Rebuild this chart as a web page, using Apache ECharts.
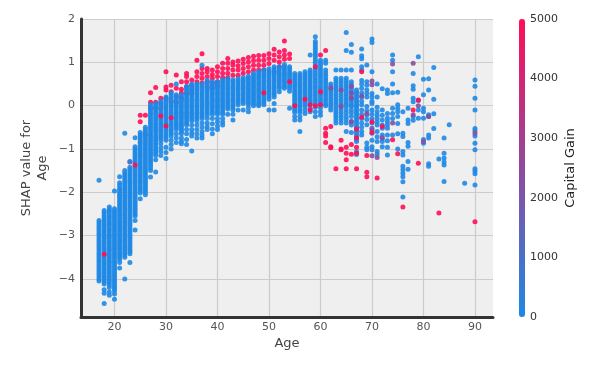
<!DOCTYPE html>
<html>
<head>
<meta charset="utf-8">
<style>html,body{margin:0;padding:0;background:#fff}#chart{width:610px;height:368px}</style>
<script src="https://cdn.jsdelivr.net/npm/echarts@6/dist/echarts.min.js"></script>
</head>
<body>
<div id="chart"></div>
<script>
// each row: age first, then the SHAP values read at that age
const lowGainRows = [
  [17,-1.72,-2.65,-2.7,-2.75,-2.8,-2.85,-2.9,-2.95,-3,-3.05,-3.1,-3.15,-3.2,-3.25,-3.3,-3.35,-3.4,-3.45,-3.5,-3.55,-3.6,-3.65,-3.7,-3.75,-3.8,-3.85,-3.9,-3.95,-4,-4.05],
  [18,-2.42,-2.47,-2.52,-2.57,-2.62,-2.67,-2.72,-2.77,-2.82,-2.87,-2.92,-2.97,-3.02,-3.07,-3.12,-3.17,-3.22,-3.27,-3.32,-3.37,-3.42,-3.47,-3.52,-3.57,-3.62,-3.67,-3.72,-3.77,-3.82,-3.87,-3.92,-3.97,-4.02,-4.07,-4.12,-4.25,-4.33,-4.57],
  [19,-2.34,-2.39,-2.44,-2.49,-2.54,-2.59,-2.64,-2.69,-2.74,-2.79,-2.84,-2.89,-2.94,-2.99,-3.04,-3.09,-3.14,-3.19,-3.24,-3.29,-3.34,-3.39,-3.44,-3.49,-3.54,-3.59,-3.64,-3.69,-3.74,-3.79,-3.84,-3.89,-3.94,-3.99,-4.04,-4.09,-4.14,-4.2,-4.3,-4.38],
  [20,-1.97,-2.38,-2.43,-2.48,-2.53,-2.58,-2.63,-2.68,-2.73,-2.78,-2.83,-2.88,-2.93,-2.98,-3.03,-3.08,-3.13,-3.18,-3.23,-3.28,-3.33,-3.38,-3.43,-3.48,-3.53,-3.58,-3.63,-3.68,-3.73,-3.78,-3.83,-3.88,-3.93,-3.98,-4.03,-4.08,-4.13,-4.18,-4.23,-4.28,-4.35,-4.47],
  [21,-1.64,-1.78,-1.84,-1.9,-1.95,-2,-2.05,-2.1,-2.15,-2.2,-2.25,-2.3,-2.35,-2.4,-2.45,-2.5,-2.55,-2.6,-2.65,-2.7,-2.75,-2.8,-2.85,-2.9,-2.95,-3,-3.05,-3.1,-3.15,-3.2,-3.25,-3.3,-3.35,-3.4,-3.45,-3.5,-3.55,-3.62,-3.75],
  [22,-0.64,-1.5,-1.55,-1.6,-1.65,-1.7,-1.75,-1.8,-1.85,-1.9,-1.95,-2,-2.05,-2.1,-2.15,-2.2,-2.25,-2.3,-2.35,-2.4,-2.45,-2.5,-2.55,-2.6,-2.65,-2.7,-2.75,-2.8,-2.85,-2.9,-2.95,-3,-3.05,-3.1,-3.15,-3.2,-3.25,-3.3,-3.35,-3.4,-3.45,-3.5,-4],
  [23,-1.29,-1.42,-1.47,-1.52,-1.57,-1.62,-1.67,-1.72,-1.77,-1.82,-1.87,-1.92,-1.97,-2.02,-2.07,-2.12,-2.17,-2.22,-2.27,-2.32,-2.37,-2.42,-2.47,-2.52,-2.57,-2.62,-2.67,-2.72,-2.77,-2.82,-2.87,-2.92,-2.97,-3.02,-3.07,-3.12,-3.17,-3.22,-3.27,-3.32,-3.37,-3.42,-3.62],
  [24,-0.74,-0.95,-1,-1.05,-1.1,-1.15,-1.2,-1.25,-1.3,-1.35,-1.4,-1.45,-1.5,-1.55,-1.6,-1.65,-1.7,-1.75,-1.8,-1.85,-1.9,-1.95,-2,-2.05,-2.1,-2.15,-2.2,-2.25,-2.3,-2.35,-2.4,-2.45,-2.5,-2.55,-2.65,-2.87],
  [25,-0.62,-0.67,-0.72,-0.77,-0.82,-0.87,-0.92,-0.97,-1.02,-1.07,-1.12,-1.17,-1.22,-1.27,-1.32,-1.37,-1.42,-1.47,-1.52,-1.57,-1.62,-1.67,-1.72,-1.77,-1.82,-1.87,-1.92,-1.97,-2.02,-2.15],
  [26,-0.5,-0.55,-0.6,-0.65,-0.7,-0.75,-0.8,-0.85,-0.9,-0.95,-1,-1.05,-1.1,-1.15,-1.2,-1.25,-1.3,-1.35,-1.4,-1.45,-1.5,-1.55,-1.6,-1.65,-1.7,-1.75,-1.8,-1.85,-1.9,-1.95,-2,-2.06],
  [27,0.02,-0.03,-0.08,-0.13,-0.18,-0.23,-0.28,-0.33,-0.38,-0.43,-0.48,-0.53,-0.58,-0.63,-0.68,-0.73,-0.78,-0.83,-0.88,-0.93,-0.98,-1.03,-1.08,-1.13,-1.18,-1.23,-1.28,-1.33,-1.38,-1.44,-1.5,-1.65],
  [28,0.05,0,-0.05,-0.1,-0.15,-0.2,-0.25,-0.3,-0.35,-0.4,-0.45,-0.5,-0.55,-0.6,-0.65,-0.7,-0.75,-0.8,-0.85,-0.9,-0.95,-1,-1.05,-1.1,-1.15,-1.25,-1.53],
  [29,0.1,0.05,0,-0.05,-0.1,-0.15,-0.2,-0.25,-0.3,-0.35,-0.4,-0.45,-0.5,-0.55,-0.6,-0.65,-0.7,-0.75,-0.8,-0.88,-0.97,-1.06,-1.15],
  [30,0.2,0.15,0.1,0.05,0,-0.05,-0.1,-0.15,-0.2,-0.25,-0.3,-0.35,-0.4,-0.45,-0.5,-0.55,-0.6,-0.65,-0.7,-0.75,-0.8,-0.96,-1.08,-1.22],
  [31,0.3,0.25,0.2,0.15,0.1,0.05,0,-0.05,-0.1,-0.15,-0.2,-0.25,-0.3,-0.35,-0.4,-0.45,-0.5,-0.55,-0.6,-0.65,-0.7,-0.8,-0.9,-1],
  [32,0.5,0.25,0.2,0.15,0.1,0.05,0,-0.05,-0.1,-0.15,-0.2,-0.25,-0.3,-0.35,-0.4,-0.45,-0.5,-0.55,-0.65,-0.75,-0.85],
  [33,0.25,0.2,0.15,0.1,0.05,0,-0.05,-0.1,-0.15,-0.2,-0.25,-0.3,-0.35,-0.4,-0.45,-0.5,-0.55,-0.6,-0.65,-0.75,-0.82,-0.88],
  [34,0.45,0.4,0.35,0.3,0.25,0.2,0.15,0.1,0.05,0,-0.05,-0.1,-0.15,-0.2,-0.25,-0.3,-0.35,-0.4,-0.45,-0.55,-0.65,-0.78,-0.9],
  [35,0.5,0.45,0.4,0.35,0.3,0.25,0.2,0.15,0.1,0.05,0,-0.05,-0.1,-0.15,-0.2,-0.25,-0.3,-0.35,-0.45,-0.55,-0.63,-0.7,-1.05],
  [36,0.5,0.45,0.4,0.35,0.3,0.25,0.2,0.15,0.1,0.05,0,-0.05,-0.1,-0.15,-0.2,-0.25,-0.3,-0.35,-0.45,-0.55,-0.65,-0.75],
  [37,0.93,0.5,0.45,0.4,0.35,0.3,0.25,0.2,0.15,0.1,0.05,0,-0.05,-0.1,-0.15,-0.2,-0.25,-0.3,-0.4,-0.5,-0.6,-0.68,-0.75],
  [38,0.58,0.53,0.48,0.43,0.38,0.33,0.28,0.23,0.18,0.13,0.08,0.03,-0.02,-0.07,-0.12,-0.17,-0.22,-0.3,-0.4,-0.48,-0.55],
  [39,0.55,0.5,0.45,0.4,0.35,0.3,0.25,0.2,0.15,0.1,0.05,0,-0.05,-0.1,-0.15,-0.2,-0.3,-0.42,-0.54,-0.65],
  [40,0.55,0.5,0.45,0.4,0.35,0.3,0.25,0.2,0.15,0.1,0.05,0,-0.05,-0.1,-0.15,-0.2,-0.3,-0.38,-0.47,-0.55],
  [41,0.6,0.55,0.5,0.45,0.4,0.35,0.3,0.25,0.2,0.15,0.1,0.05,0,-0.05,-0.1,-0.15,-0.2,-0.3,-0.38,-0.45],
  [42,0.62,0.57,0.52,0.47,0.42,0.37,0.32,0.27,0.22,0.17,0.12,0.07,0.02,-0.03,-0.08,-0.2],
  [43,0.6,0.55,0.5,0.45,0.4,0.35,0.3,0.25,0.2,0.15,0.1,0.05,0,-0.05,-0.1,-0.2,-0.33],
  [44,0.62,0.57,0.52,0.47,0.42,0.37,0.32,0.27,0.22,0.17,0.12,0.07,0.02,-0.1],
  [45,0.65,0.6,0.55,0.5,0.45,0.4,0.35,0.3,0.25,0.2,0.15,0.1,0.05,-0.1],
  [46,0.68,0.63,0.58,0.53,0.48,0.43,0.38,0.33,0.28,0.23,0.18,0.13,0.08,0.03,-0.05,-0.14],
  [47,0.75,0.7,0.65,0.6,0.55,0.5,0.45,0.4,0.35,0.3,0.25,0.2,0.15,0.1,0.05,0],
  [48,0.78,0.73,0.68,0.63,0.58,0.53,0.48,0.43,0.38,0.33,0.28,0.23,0.18,0.13,0.08,0.03,0],
  [49,0.82,0.77,0.72,0.67,0.62,0.57,0.52,0.47,0.42,0.37,0.32,0.27,0.22,0.17,0.12,0.07,0.02],
  [50,0.85,0.8,0.75,0.7,0.65,0.6,0.55,0.5,0.45,0.4,0.35,0.3,0.25,0.2,0.15,-0.1],
  [51,0.9,0.85,0.8,0.75,0.7,0.65,0.6,0.55,0.5,0.45,0.4,0.35,0.3,0.25,0.2,0.05,-0.1],
  [52,0.9,0.85,0.8,0.75,0.7,0.65,0.6,0.55,0.5,0.45,0.4,0.32],
  [53,0.95,0.9,0.85,0.8,0.75,0.7,0.65,0.6,0.55,0.5,0.45,0.4],
  [54,0.9,0.85,0.8,0.75,0.7,0.65,0.6,0.55,0.5,0.45,0.4,0.33,-0.06],
  [55,0.74,0.69,0.64,0.59,0.54,0.49,0.44,0.39,0.34,0.29,0.24,0.19,0.14,0.09,0.04,-0.01,-0.06,-0.11,-0.16,-0.25,-0.33],
  [56,0.74,0.69,0.64,0.59,0.54,0.49,0.44,0.39,0.34,0.29,0.24,0.19,0.14,0.09,0.04,-0.01,-0.06,-0.11,-0.16,-0.25,-0.33,-0.6],
  [57,0.78,0.73,0.68,0.63,0.58,0.53,0.48,0.43,0.38,0.33,0.28,0.23,0.18,0.13,0.08,0.03,-0.02,-0.1,-0.18],
  [58,1.17,0.82,0.77,0.72,0.67,0.62,0.57,0.52,0.47,0.42,0.37,0.32,0.27,0.22,0.17,0.12,0.07,0.02,-0.06,-0.14],
  [59,1.59,1.48,1.42,1.36,1.3,1.24,1.18,1.12,1.06,1,0.94,0.88,0.82,0.76,0.7,0.64,0.58,0.52,0.46,0.4,0.34,0.28,0.22,0.16,0.1,0.04,-0.04,-0.14,-0.25],
  [60,1.05,0.99,0.93,0.87,0.81,0.75,0.69,0.63,0.57,0.51,0.45,0.39,0.33,0.27,0.21,0.15,0.09,0.03,-0.05,-0.14,-0.22],
  [61,1.05,0.98,0.82,0.76,0.7,0.64,0.58,0.52,0.46,0.4,0.34,0.28,0.22,0.16,0.1,0.04,0],
  [62,0.5,0.44,0.38,0.32,0.26,0.2,0.14,0.08,0.02,-0.04,-0.1],
  [63,0.82,0.63,0.57,0.51,0.45,0.39,0.33,0.27,0.21,0.15,0.09,0.03,-0.03,-0.09,-0.15,-0.21,-0.27,-0.33,-0.4],
  [64,0.82,0.63,0.57,0.51,0.45,0.39,0.33,0.27,0.21,0.15,0.09,0.03,-0.03,-0.09,-0.15,-0.21,-0.27,-0.33,-0.4],
  [65,1.69,1.27,0.82,0.63,0.57,0.51,0.45,0.39,0.33,0.27,0.21,0.15,0.09,0.03,-0.02,-0.1,-0.17,-0.25,-0.32,-0.4,-0.6],
  [66,1.41,1.23,0.82,0.55,0.49,0.43,0.37,0.31,0.25,0.19,0.13,0.07,0.01,-0.02,-0.1,-0.17,-0.25,-0.36,-0.45,-0.62],
  [67,0.36,0.31,0.26,0.21,0.16,0.11,0.06,0.01,-0.04,-0.09,-0.14,-0.19,-0.24,-0.29,-0.34,-0.39,-0.44,-0.49,-0.54,-0.59,-0.64,-0.69,-0.74,-0.79,-0.83,-1.06,-1.13],
  [68,1.31,1.15,1.08,0.9,0.82,0.58,0.5,0.4,0.3,0.2,0.1,0.02,-0.1,-0.2,-0.3,-0.4,-0.5,-0.6,-0.68],
  [69,0.94,0.55,0.47,0.36,0.28,0.2,-0.02,-0.12,-0.22,-0.32,-0.44,-0.86,-0.96,-1.02],
  [70,1.54,1.46,0.78,0.28,0.2,0.1,0.05,-0.1,-0.2,-0.3,-0.4,-0.56,-0.64,-0.8,-0.95,-1.02],
  [71,0.5,0.2,-0.04,-0.14,-0.22,-0.3,-0.38,-0.45,-0.6,-0.72,-0.83,-1.06,-1.12],
  [72,0.39,-0.1,-0.22,-0.33,-0.45,-0.52,-0.68,-0.76,-0.83,-0.95],
  [73,0.36,0.28,-0.18,-0.29,-0.37,-0.45,-0.52,-0.68,-0.81,-0.96,-1.14],
  [74,1.17,1.05,0.78,0.5,0.3,-0.06,-0.18,-0.3,-0.68],
  [75,0.31,0.02,-0.06,-0.14,-0.25,-0.41,-0.65,-1],
  [76,-0.14,-0.64,-0.71,-1.06,-1.14,-1.4,-1.48,-1.56,-1.64,-1.76,-2.11],
  [77,-0.06,-0.33,-0.41,-0.85,-0.94,-1.29,-1.47],
  [78,0.74,0.46,0.38,0.17,0.09,-0.25,-0.34],
  [79,1.13,0.12,-0.1,-0.29],
  [80,0.61,0.25,-0.06,-0.14,-0.29,-0.78,-0.87],
  [81,0.62,0.36,-0.21,-0.25,-0.68,-0.75,-1.34,-1.4],
  [82,0.88,0.15,-0.19,-0.53],
  [83,-1.23],
  [84,-0.75,-1.1,-1.21,-1.3,-1.37,-1.75],
  [85,-0.44],
  [88,-1.79],
  [90,0.59,0.45,0.17,-0.1,-0.53,-0.58,-0.7,-0.87,-1.02,-1.46,-1.51,-1.57,-1.83]
]
const midGainRows = [
  [62,0.4],
  [64,0.36,-0.02],
  [66,0.44,0.29,0.17,-0.38],
  [68,0.22],
  [69,-0.18],
  [70,0.57,0.48,-0.52,-1.16],
  [71,-1.2],
  [72,-0.74],
  [74,0.96,-0.4],
  [78,0.98,-0.21],
  [79,0],
  [80,-0.83],
  [81,-0.25],
  [90,-0.64]
]
// pink dots the blue column is drawn over
const highGainBackRows = [
  [23,-1.3],
  [25,-0.22,-0.37],
  [26,-0.22,-0.67],
  [27,0.3,0.08,-0.06],
  [28,0.42,0.08,-0.06],
  [29,0.17,0.05,-0.06],
  [30,0.78,0.43,0.36,0.17],
  [31,0.47,0.32,0.09],
  [32,0.71,0.4,0.21,0.07],
  [33,0.55,0.38,0.29,0.17],
  [34,0.74,0.67,0.55,0.43,0.28],
  [35,0.59,0.47,0.36,0.28],
  [36,1.05,0.78,0.67,0.55],
  [37,1.2,0.86,0.74,0.63,0.52],
  [38,0.86,0.78,0.67,0.55,0.43],
  [39,0.82,0.72,0.63,0.52,0.4],
  [40,0.9,0.78,0.67,0.55,0.47],
  [41,0.98,0.86,0.75,0.65],
  [42,1.09,0.98,0.86,0.75,0.65],
  [43,1.01,0.93,0.82,0.7],
  [44,1.03,0.92,0.82,0.7],
  [45,1.07,0.97,0.86,0.75],
  [46,1.11,1.01,0.9,0.78],
  [47,1.14,1.04,0.93,0.82],
  [48,1.16,1.05,0.93,0.82],
  [49,1.16,1.05,0.93,0.82],
  [50,1.2,1.09,0.97],
  [51,1.3,1.17,1.05,0.78],
  [52,1.24,1.13,1.01,0.9],
  [53,1.49,1.27,1.17,1.07],
  [54,1.19,1.09]
]
const highGainFrontRows = [
  [18,-3.43],
  [24,-1.37],
  [29,-0.24],
  [30,-0.47],
  [31,-0.28],
  [49,0.3],
  [54,0.55],
  [55,0],
  [57,0.15],
  [58,0.02,-0.1],
  [59,0.9,0],
  [60,1.17,0.32,0.02],
  [61,1.27,-0.52,-0.64,-0.7,-0.85],
  [62,-0.48,-0.95,-0.97],
  [63,-1.46],
  [64,-0.8,-1,-1.02],
  [65,-0.96,-1.1,-1.25,-1.46],
  [66,-0.9,-1.12],
  [67,-0.54,-0.74,-0.96,-1.1,-1.46],
  [68,0.78,-0.27],
  [69,-1.15,-1.54,-1.64],
  [70,-0.37,-0.62],
  [71,-1.67],
  [72,-0.48],
  [74,-0.79],
  [75,-1.11],
  [76,-2.34],
  [78,-0.1],
  [79,0.13,-1.33],
  [83,-2.48],
  [90,-2.68]
]
const gainLow = 0
const gainMid = 2400
const gainHigh = 5000
const colorbarColors = ['#1E88E5', '#FF0D57']

const toPoints = (rows, gain) => {
  const out = []
  rows.forEach(row => {
    row.slice(1).forEach(v => out.push([row[0], v, gain]))
  })
  return out
}

const minus = v => String(v).replace('-', '\u2212')
const font = 'DejaVu Sans'

const scatter = (rows, gain) => ({
  type: 'scatter',
  xAxisIndex: 0,
  yAxisIndex: 0,
  symbolSize: 5,
  itemStyle: { opacity: 0.9 },
  data: toPoints(rows, gain)
})

const myChart = echarts.init(document.getElementById('chart'))
myChart.setOption({
  animation: false,
  grid: [
    { left: 81, right: 117, top: 19, bottom: 51, show: true, backgroundColor: '#efefef', borderWidth: 0 },
    { left: 519, width: 6, top: 19, bottom: 51 }
  ],
  xAxis: [
    {
      gridIndex: 0,
      type: 'value',
      min: 13.5,
      max: 93.5,
      splitNumber: 8,
      name: 'Age',
      nameLocation: 'middle',
      nameGap: 20,
      nameMoveOverlap: false,
      nameTextStyle: { fontFamily: font, fontSize: 13, color: '#444' },
      axisLine: { onZero: false, lineStyle: { color: '#333', width: 3 } },
      axisTick: { show: false },
      axisLabel: { fontFamily: font, fontSize: 11, color: '#555', margin: 5, showMinLabel: false, showMaxLabel: false },
      splitLine: { show: true, showMinLine: false, showMaxLine: false, lineStyle: { color: '#ccc', width: 1.2 } }
    },
    {
      gridIndex: 1,
      type: 'value',
      min: 0,
      max: 1,
      show: false
    }
  ],
  yAxis: [
    {
      gridIndex: 0,
      type: 'value',
      min: -4.88,
      max: 2,
      splitNumber: 7,
      name: 'SHAP value for\nAge',
      nameLocation: 'middle',
      nameRotate: 90,
      nameGap: 30,
      nameMoveOverlap: false,
      nameTextStyle: { fontFamily: font, fontSize: 13, color: '#444', lineHeight: 16 },
      axisLine: { onZero: false, lineStyle: { color: '#333', width: 3 } },
      axisTick: { show: false },
      axisLabel: { fontFamily: font, fontSize: 11, color: '#555', margin: 6, showMinLabel: false, formatter: minus },
      splitLine: { show: true, showMinLine: false, lineStyle: { color: '#ccc', width: 1.2 } }
    },
    {
      gridIndex: 1,
      type: 'value',
      position: 'right',
      min: 0,
      max: 5000,
      interval: 1000,
      name: 'Capital Gain',
      nameLocation: 'middle',
      nameRotate: 90,
      nameGap: 39,
      nameTextStyle: { fontFamily: font, fontSize: 13, color: '#222' },
      axisLine: { show: false },
      axisTick: { show: false },
      axisLabel: { fontFamily: font, fontSize: 11, color: '#333', margin: 5, formatter: v => String(v) },
      splitLine: { show: false }
    }
  ],
  visualMap: {
    type: 'continuous',
    dimension: 2,
    seriesIndex: [0, 1, 2, 3],
    min: 0,
    max: 5000,
    left: 519,
    top: 19,
    padding: 0,
    itemWidth: 6,
    itemHeight: 298,
    calculable: false,
    hoverLink: false,
    text: null,
    showLabel: false,
    inRange: { color: colorbarColors }
  },
  series: [
    scatter(highGainBackRows, gainHigh),
    scatter(lowGainRows, gainLow),
    scatter(midGainRows, gainMid),
    scatter(highGainFrontRows, gainHigh)
  ]
})
</script>
</body>
</html>
